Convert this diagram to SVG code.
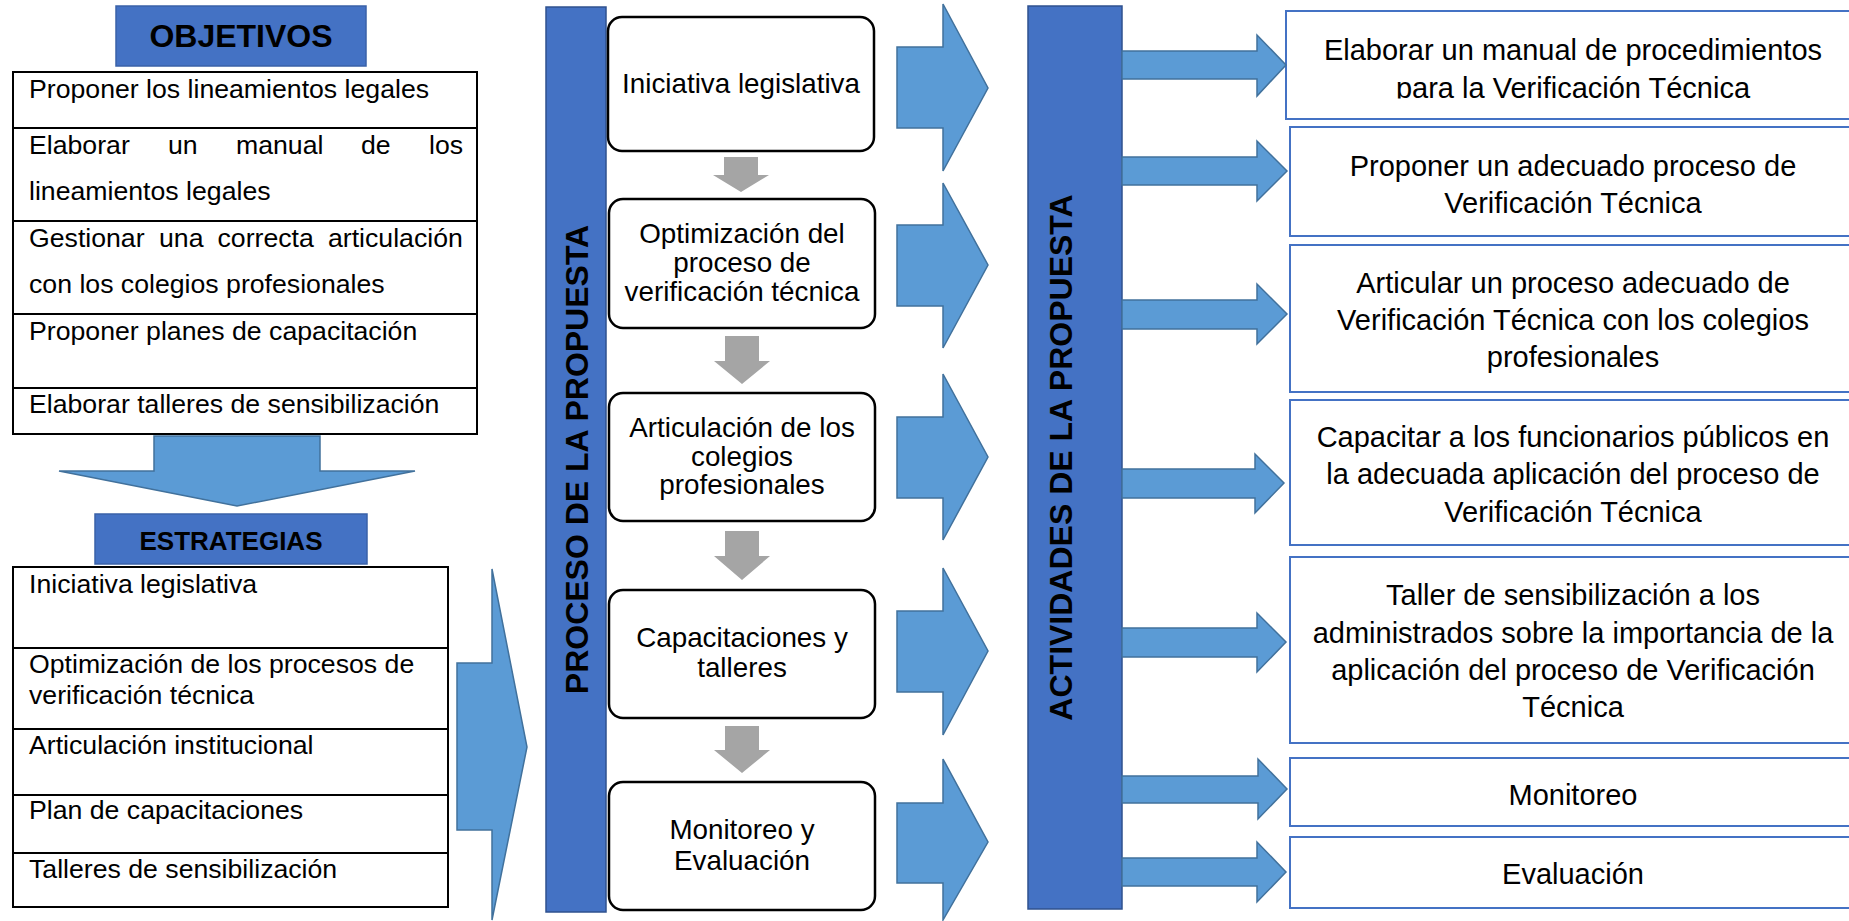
<svg xmlns="http://www.w3.org/2000/svg" width="1849" height="921" viewBox="0 0 1849 921">
<style>
.t{font-family:"Liberation Sans",Arial,sans-serif;fill:#000}
.f20{font-size:26.67px}
.b{font-weight:bold}
.hbox{fill:#4472C4;stroke:#3A62A8;stroke-width:1.5}
.tbl{fill:#fff;stroke:#000;stroke-width:2}
.ln{stroke:#000;stroke-width:2}
.barrow{fill:#5B9BD5;stroke:#41719C;stroke-width:1.5;stroke-linejoin:miter}
.garrow{fill:#A5A5A5}
.pbox{fill:#fff;stroke:#000;stroke-width:2.5}
.abox{fill:#fff;stroke:#4472C4;stroke-width:2}
.pt{font-size:27.8px;text-anchor:middle}
.at{font-size:29px;text-anchor:middle}
.col{fill:#4472C4;stroke:#2F528F;stroke-width:1.5}
</style>
<defs>
<clipPath id="clipA1"><rect x="1286" y="11" width="600" height="87.5"/></clipPath>
</defs>

<g id="objetivos-header">
<rect class="hbox" x="116" y="6" width="250" height="60"/>
<text class="t b" x="241" y="47" font-size="32" text-anchor="middle">OBJETIVOS</text>
</g>

<g id="objetivos-table">
<rect class="tbl" x="13" y="72" width="464" height="362"/>
<line class="ln" x1="13" y1="128" x2="477" y2="128"/>
<line class="ln" x1="13" y1="221" x2="477" y2="221"/>
<line class="ln" x1="13" y1="314" x2="477" y2="314"/>
<line class="ln" x1="13" y1="388" x2="477" y2="388"/>
<text class="t f20" x="29" y="98">Proponer los lineamientos legales</text>
<text class="t f20" y="154"><tspan x="29">Elaborar</tspan><tspan x="168">un</tspan><tspan x="236">manual</tspan><tspan x="361">de</tspan><tspan x="429">los</tspan></text>
<text class="t f20" x="29" y="200">lineamientos legales</text>
<text class="t f20" y="247"><tspan x="29">Gestionar</tspan><tspan x="159">una</tspan><tspan x="217.5">correcta</tspan><tspan x="328">articulación</tspan></text>
<text class="t f20" x="29" y="293">con los colegios profesionales</text>
<text class="t f20" x="29" y="340">Proponer planes de capacitación</text>
<text class="t f20" x="29" y="413">Elaborar talleres de sensibilización</text>
</g>

<g id="estrategias-header">
<rect class="hbox" x="95" y="514" width="272" height="50"/>
<text class="t b" x="231" y="550" font-size="26" text-anchor="middle">ESTRATEGIAS</text>
</g>

<g id="estrategias-table">
<rect class="tbl" x="13" y="567" width="435" height="340"/>
<line class="ln" x1="13" y1="648" x2="448" y2="648"/>
<line class="ln" x1="13" y1="729" x2="448" y2="729"/>
<line class="ln" x1="13" y1="795" x2="448" y2="795"/>
<line class="ln" x1="13" y1="853" x2="448" y2="853"/>
<text class="t f20" x="29" y="593">Iniciativa legislativa</text>
<text class="t f20" x="29" y="673">Optimización de los procesos de</text>
<text class="t f20" x="29" y="704">verificación técnica</text>
<text class="t f20" x="29" y="754">Articulación institucional</text>
<text class="t f20" x="29" y="819">Plan de capacitaciones</text>
<text class="t f20" x="29" y="878">Talleres de sensibilización</text>
</g>

<g id="proceso-column">
<rect class="col" x="546" y="7" width="60" height="905"/>
<text class="t b" font-size="32" text-anchor="middle" transform="translate(588,459.5) rotate(-90)">PROCESO DE LA PROPUESTA</text>
</g>

<g id="p1">
<rect class="pbox" x="608" y="17" width="266" height="134" rx="14"/>
<text class="t pt" x="741" y="93">Iniciativa legislativa</text>
</g>
<g id="p2">
<rect class="pbox" x="609" y="199" width="266" height="129" rx="14"/>
<text class="t pt" x="742" y="243">Optimización del</text>
<text class="t pt" x="742" y="272">proceso de</text>
<text class="t pt" x="742" y="301">verificación técnica</text>
</g>
<g id="p3">
<rect class="pbox" x="609" y="393" width="266" height="128" rx="14"/>
<text class="t pt" x="742" y="437">Articulación de los</text>
<text class="t pt" x="742" y="466">colegios</text>
<text class="t pt" x="742" y="494">profesionales</text>
</g>
<g id="p4">
<rect class="pbox" x="609" y="590" width="266" height="128" rx="14"/>
<text class="t pt" x="742" y="647">Capacitaciones y</text>
<text class="t pt" x="742" y="677">talleres</text>
</g>
<g id="p5">
<rect class="pbox" x="609" y="782" width="266" height="128" rx="14"/>
<text class="t pt" x="742" y="839">Monitoreo y</text>
<text class="t pt" x="742" y="870">Evaluación</text>
</g>

<g id="actividades-column">
<rect class="col" x="1028" y="6" width="94" height="903"/>
<text class="t b" font-size="32" text-anchor="middle" transform="translate(1072,457.5) rotate(-90)">ACTIVIDADES DE LA PROPUESTA</text>
</g>

<g id="a1">
<rect class="abox" x="1286" y="11" width="600" height="108"/>
<g clip-path="url(#clipA1)">
<text class="t at" x="1573" y="59.5">Elaborar un manual de procedimientos</text>
<text class="t at" x="1573" y="97.5">para la Verificación Técnica</text>
</g>
</g>
<g id="a2">
<rect class="abox" x="1290" y="127" width="600" height="109"/>
<text class="t at" x="1573" y="176">Proponer un adecuado proceso de</text>
<text class="t at" x="1573" y="212.5">Verificación Técnica</text>
</g>
<g id="a3">
<rect class="abox" x="1290" y="245" width="600" height="147"/>
<text class="t at" x="1573" y="292.5">Articular un proceso adecuado de</text>
<text class="t at" x="1573" y="330">Verificación Técnica con los colegios</text>
<text class="t at" x="1573" y="367">profesionales</text>
</g>
<g id="a4">
<rect class="abox" x="1290" y="400" width="600" height="145"/>
<text class="t at" x="1573" y="447">Capacitar a los funcionarios públicos en</text>
<text class="t at" x="1573" y="484">la adecuada aplicación del proceso de</text>
<text class="t at" x="1573" y="522">Verificación Técnica</text>
</g>
<g id="a5">
<rect class="abox" x="1290" y="557" width="600" height="186"/>
<text class="t at" x="1573" y="605">Taller de sensibilización a los</text>
<text class="t at" x="1573" y="643">administrados sobre la importancia de la</text>
<text class="t at" x="1573" y="679.5">aplicación del proceso de Verificación</text>
<text class="t at" x="1573" y="717">Técnica</text>
</g>
<g id="a6">
<rect class="abox" x="1290" y="758" width="600" height="68"/>
<text class="t at" x="1573" y="805">Monitoreo</text>
</g>
<g id="a7">
<rect class="abox" x="1290" y="837" width="600" height="71"/>
<text class="t at" x="1573" y="884">Evaluación</text>
</g>

<g id="connectors">
<polygon class="barrow" points="154,436 320,436 320,471 415,471 237,506 59,471 154,471"/>
<polygon class="barrow" points="457,663 492,663 492,569 527,747 492,920 492,830 457,830"/>
<polygon class="garrow" points="724,157 758,157 758,175 769,175 741,192 713,175 724,175"/>
<polygon class="garrow" points="725,336 759,336 759,361 770,361 742,384 714,361 725,361"/>
<polygon class="garrow" points="725,531 759,531 759,556 770,556 742,580 714,556 725,556"/>
<polygon class="garrow" points="725,726 759,726 759,750 770,750 742,773 714,750 725,750"/>
<polygon class="barrow" points="897,47 943,47 943,4 988,88 943,171 943,128 897,128"/>
<polygon class="barrow" points="897,225 943,225 943,183 988,265 943,348 943,306 897,306"/>
<polygon class="barrow" points="897,417 943,417 943,374 988,457 943,540 943,498 897,498"/>
<polygon class="barrow" points="897,611 943,611 943,568 988,651 943,735 943,692 897,692"/>
<polygon class="barrow" points="897,803 943,803 943,759 988,842 943,920 943,883 897,883"/>
<polygon class="barrow" points="1122,51 1257,51 1257,35 1286,65 1257,96 1257,79 1122,79"/>
<polygon class="barrow" points="1122,157 1257,157 1257,141 1287,171 1257,201 1257,185 1122,185"/>
<polygon class="barrow" points="1122,300 1257,300 1257,284 1287,314 1257,344 1257,329 1122,329"/>
<polygon class="barrow" points="1122,469 1255,469 1255,454 1284,483 1255,513 1255,498 1122,498"/>
<polygon class="barrow" points="1122,628 1257,628 1257,613 1286,642 1257,672 1257,657 1122,657"/>
<polygon class="barrow" points="1122,776 1258,776 1258,759 1287,789 1258,819 1258,803 1122,803"/>
<polygon class="barrow" points="1122,858 1257,858 1257,842 1286,872 1257,902 1257,886 1122,886"/>
</g>
</svg>
